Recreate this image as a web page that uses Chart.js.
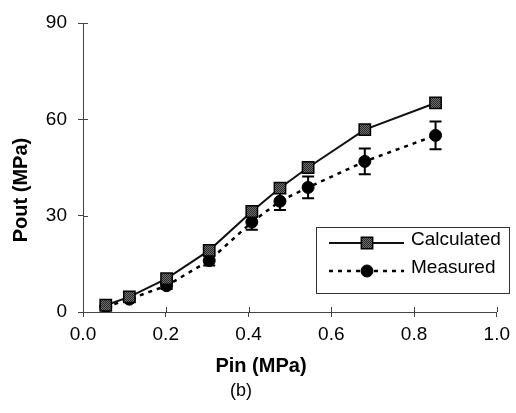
<!DOCTYPE html>
<html>
<head>
<meta charset="utf-8">
<script src="https://cdn.jsdelivr.net/npm/chart.js@4.4.0/dist/chart.umd.min.js"></script>
<style>
  html, body { margin: 0; padding: 0; background: #fff; }
</style>
</head>
<body>
<canvas id="myChart" width="516" height="413"></canvas>
<script>
// inlet pressure (MPa) and outlet pressure (MPa)
const pin = [0.055, 0.112, 0.202, 0.305, 0.408, 0.476, 0.544, 0.681, 0.852];
const poutCalculated = [2.1, 4.7, 10.4, 19.2, 31.3, 38.6, 45.0, 56.8, 65.1];
const poutMeasured = [1.6, 4.0, 8.2, 16.0, 28.0, 34.5, 38.8, 46.9, 55.0];
const measuredError = [0.5, 0.8, 1.0, 1.5, 2.4, 2.7, 3.4, 4.0, 4.3];
const seriesLabels = ['Calculated', 'Measured'];
const xTitle = 'Pin (MPa)';
const yTitle = 'Pout (MPa)';
const caption = '(b)';

const FONT = '"Liberation Sans", Arial, sans-serif';
Chart.defaults.font.family = FONT;
Chart.defaults.color = '#000';

// dark checkered fill for the square markers
function squareFill() {
    const c = document.createElement('canvas');
    c.width = 2; c.height = 2;
    const g = c.getContext('2d');
    g.fillStyle = '#707070'; g.fillRect(0, 0, 2, 2);
    g.fillStyle = '#262626'; g.fillRect(0, 0, 1, 1); g.fillRect(1, 1, 1, 1);
    return g.createPattern(c, 'repeat');
}

const errorBars = {
    id: 'errorBars',
    beforeDatasetsDraw(chart) {
        const { ctx, scales: { x, y } } = chart;
        ctx.save();
        ctx.strokeStyle = '#000';
        ctx.lineWidth = 2;
        pin.forEach((p, i) => {
            const px = x.getPixelForValue(p);
            const top = y.getPixelForValue(poutMeasured[i] + measuredError[i]);
            const bot = y.getPixelForValue(poutMeasured[i] - measuredError[i]);
            ctx.beginPath();
            ctx.moveTo(px, top); ctx.lineTo(px, bot);
            ctx.moveTo(px - 6, top); ctx.lineTo(px + 6, top);
            ctx.moveTo(px - 6, bot); ctx.lineTo(px + 6, bot);
            ctx.stroke();
        });
        ctx.restore();
    }
};

// inner half of the crossing tick marks, titles, caption and boxed legend
const decorations = {
    id: 'decorations',
    afterDraw(chart) {
        const { ctx, scales: { x, y }, chartArea } = chart;
        ctx.save();
        ctx.strokeStyle = '#444';
        ctx.lineWidth = 1;
        ctx.beginPath();
        x.ticks.forEach(t => {
            const px = Math.round(x.getPixelForValue(t.value)) + 0.5;
            ctx.moveTo(px, chartArea.bottom); ctx.lineTo(px, chartArea.bottom - 5);
        });
        y.ticks.forEach(t => {
            const py = Math.round(y.getPixelForValue(t.value)) + 0.5;
            ctx.moveTo(chartArea.left, py); ctx.lineTo(chartArea.left + 5, py);
        });
        ctx.stroke();

        ctx.fillStyle = '#000';
        ctx.textAlign = 'center';
        ctx.textBaseline = 'middle';
        ctx.font = 'bold 20px ' + FONT;
        ctx.fillText(xTitle, 261, 366);
        ctx.save();
        ctx.translate(21, 190);
        ctx.rotate(-Math.PI / 2);
        ctx.fillText(yTitle, 0, 0);
        ctx.restore();
        ctx.font = '18px ' + FONT;
        ctx.fillText(caption, 241, 391);

        // legend
        const bx = 316, by = 227, bw = 193, bh = 66;
        ctx.fillStyle = '#fff';
        ctx.fillRect(bx, by, bw, bh);
        ctx.strokeStyle = '#333';
        ctx.strokeRect(bx + 0.5, by + 0.5, bw, bh);
        const rows = [243, 271];
        chart.data.datasets.forEach((ds, i) => {
            const ly = rows[i];
            ctx.save();
            ctx.strokeStyle = ds.borderColor;
            ctx.lineWidth = ds.borderWidth;
            ctx.setLineDash(ds.borderDash || []);
            ctx.beginPath();
            ctx.moveTo(329, ly); ctx.lineTo(404, ly);
            ctx.stroke();
            ctx.restore();
            ctx.fillStyle = ds.pointBackgroundColor;
            ctx.strokeStyle = ds.pointBorderColor;
            ctx.lineWidth = ds.pointBorderWidth;
            ctx.beginPath();
            if (ds.pointStyle === 'rect') {
                const s = ds.pointRadius * Math.SQRT1_2;
                ctx.rect(367 - s, ly - s, 2 * s, 2 * s);
            } else {
                ctx.arc(367, ly, ds.pointRadius, 0, Math.PI * 2);
            }
            ctx.fill();
            ctx.stroke();
            ctx.fillStyle = '#000';
            ctx.textAlign = 'left';
            ctx.font = '19px ' + FONT;
            ctx.fillText(ds.label, 411, ly - 3);
        });
        ctx.restore();
    }
};

const data = {
    datasets: [
        {
            label: seriesLabels[0],
            data: pin.map((p, i) => ({ x: p, y: poutCalculated[i] })),
            borderColor: '#111',
            borderWidth: 2,
            pointStyle: 'rect',
            pointRadius: 8,
            pointBackgroundColor: squareFill(),
            pointBorderColor: '#000',
            pointBorderWidth: 1.5,
            tension: 0
        },
        {
            label: seriesLabels[1],
            data: pin.map((p, i) => ({ x: p, y: poutMeasured[i] })),
            borderColor: '#000',
            borderWidth: 2.5,
            borderDash: [4, 5],
            pointStyle: 'circle',
            pointRadius: 6,
            pointBackgroundColor: '#000',
            pointBorderColor: '#000',
            pointBorderWidth: 1,
            tension: 0
        }
    ]
};

const config = {
    type: 'line',
    data: data,
    options: {
        responsive: false,
        animation: false,
        layout: {
            padding: { top: 23, right: 19, left: 0, bottom: 0 }
        },
        plugins: {
            legend: { display: false },
            tooltip: { enabled: false }
        },
        scales: {
            x: {
                type: 'linear',
                min: 0,
                max: 1,
                grid: {
                    drawOnChartArea: false,
                    drawTicks: true,
                    tickLength: 5,
                    color: '#444'
                },
                border: { color: '#444', width: 1 },
                ticks: {
                    stepSize: 0.2,
                    padding: 6,
                    font: { size: 19 },
                    callback: v => v.toFixed(1)
                },
                afterFit: scale => { scale.height = 101; }
            },
            y: {
                min: 0,
                max: 90,
                grid: {
                    drawOnChartArea: false,
                    drawTicks: true,
                    tickLength: 5,
                    color: '#444'
                },
                border: { color: '#444', width: 1 },
                ticks: {
                    stepSize: 30,
                    padding: 11,
                    font: { size: 19 }
                },
                afterFit: scale => { scale.width = 83; }
            }
        }
    },
    plugins: [errorBars, decorations]
};

new Chart(document.getElementById('myChart'), config);
</script>
</body>
</html>
